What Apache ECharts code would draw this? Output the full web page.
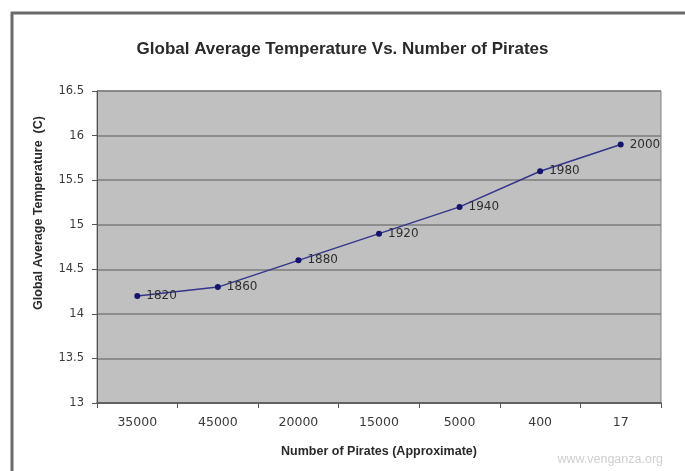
<!DOCTYPE html>
<html>
<head>
<meta charset="utf-8">
<script src="https://cdn.jsdelivr.net/npm/echarts@6/dist/echarts.min.js"></script>
<style>
  html, body { margin: 0; padding: 0; background: #fff; }
  #chart { width: 685px; height: 471px; }
</style>
</head>
<body>
<div id="chart"></div>
<script>
// number of pirates (category axis), temperature and the year of each point
const pirates = ['35000', '45000', '20000', '15000', '5000', '400', '17'];
const temperature = [14.2, 14.3, 14.6, 14.9, 15.2, 15.6, 15.9];
const years = ['1820', '1860', '1880', '1920', '1940', '1980', '2000'];

const chart = echarts.init(document.getElementById('chart'));
const options = {
    backgroundColor: '#ffffff',
    animation: false,
    title: {
        text: 'Global Average Temperature Vs. Number of Pirates',
        left: 'center',
        top: 36,
        textStyle: {
            fontFamily: 'Liberation Sans',
            fontSize: 17,
            fontWeight: 'bold',
            color: '#2a2a2a'
        }
    },
    grid: {
        left: 97,
        right: 24,
        top: 91,
        bottom: 68,
        show: true,
        backgroundColor: '#c0c0c0',
        borderColor: '#808080',
        borderWidth: 1
    },
    xAxis: {
        type: 'category',
        data: pirates,
        name: 'Number of Pirates (Approximate)',
        nameLocation: 'middle',
        nameGap: 42,
        nameTextStyle: {
            fontFamily: 'Liberation Sans',
            fontSize: 12.5,
            fontWeight: 'bold',
            color: '#2a2a2a'
        },
        axisLine: { lineStyle: { color: '#555', width: 1.5 } },
        axisTick: { show: true, length: 5, lineStyle: { color: '#555' } },
        axisLabel: {
            margin: 13,
            fontFamily: 'DejaVu Sans',
            fontSize: 12.5,
            color: '#3a3a3a'
        }
    },
    yAxis: {
        type: 'value',
        min: 13,
        max: 16.5,
        interval: 0.5,
        axisLine: { show: true, lineStyle: { color: '#555' } },
        axisTick: { show: true, length: 5, lineStyle: { color: '#555' } },
        axisLabel: {
            margin: 13,
            fontFamily: 'DejaVu Sans',
            fontSize: 11.5,
            color: '#3a3a3a'
        },
        splitLine: { lineStyle: { color: '#7c7c7c', width: 1.5 } }
    },
    series: [{
        type: 'line',
        data: temperature,
        symbol: 'circle',
        symbolSize: 6,
        lineStyle: { color: '#34348c', width: 1.5 },
        itemStyle: { color: '#14146e' },
        label: {
            show: true,
            position: 'right',
            distance: 6,
            fontFamily: 'DejaVu Sans',
            fontSize: 12,
            color: '#2e2e2e',
            formatter: function (p) {
                return years[p.dataIndex];
            }
        }
    }],
    graphic: [
        // outer frame of the original picture (top and left edges)
        { type: 'line', shape: { x1: 11, y1: 13, x2: 685, y2: 13 }, style: { stroke: '#6a6a6a', lineWidth: 3 } },
        { type: 'line', shape: { x1: 12, y1: 12, x2: 12, y2: 471 }, style: { stroke: '#6a6a6a', lineWidth: 3 } },
        {
            // y axis title sits above the plot centre in the original
            type: 'text',
            x: 39,
            y: 213,
            rotation: Math.PI / 2,
            style: {
                text: 'Global Average Temperature  (C)',
                fontFamily: 'Liberation Sans',
                fontSize: 12.5,
                fontWeight: 'bold',
                fill: '#2a2a2a',
                align: 'center',
                verticalAlign: 'middle'
            }
        },
        {
            type: 'text',
            right: 22,
            top: 453,
            style: {
                text: 'www.venganza.org',
                fontFamily: 'Liberation Sans',
                fontSize: 12.5,
                fill: '#cfcfcf'
            }
        }
    ]
};
chart.setOption(options);
</script>
</body>
</html>
